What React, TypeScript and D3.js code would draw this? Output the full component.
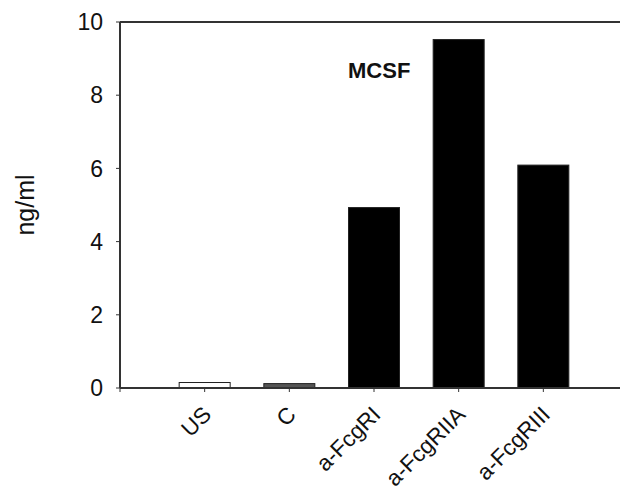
import * as d3 from 'd3';

const categories = ['US', 'C', 'a-FcgRI', 'a-FcgRIIA', 'a-FcgRIII'];
const values = [0.15, 0.12, 4.93, 9.52, 6.09];
const barFills = ['#ffffff', '#555555', '#000000', '#000000', '#000000'];
const yTicks = [0, 2, 4, 6, 8, 10];
const yLabel = 'ng/ml';
const panelTitle = 'MCSF';

const width = 620;
const height = 493;
const left = 120;
const top = 22;
const bottom = 388;
const font = 'Arial, "Liberation Sans", sans-serif';

export default function App() {
  // SigmaPlot-style numeric x axis: bars sit at 1..5 on a 0..6 axis
  const x = d3.scaleLinear([0, categories.length + 1], [left, 628]);
  const y = d3.scaleLinear([0, 10], [bottom, top]);
  const barWidth = 51;
  const axisColor = '#333';

  return (
    <svg
      width={width}
      height={height}
      style={{ position: 'absolute', left: 0, top: 0, background: '#fff' }}
      fontFamily={font}
    >
      {/* frame top */}
      <line x1={left} x2={width} y1={top} y2={top} stroke={axisColor} strokeWidth={2} />

      {/* bars */}
      {values.map((v, i) => (
        <rect
          key={categories[i]}
          x={x(i + 1) - barWidth / 2}
          y={y(v)}
          width={barWidth}
          height={y(0) - y(v)}
          fill={barFills[i]}
          stroke="#222"
          strokeWidth={1}
        />
      ))}

      {/* y axis */}
      <line x1={left} x2={left} y1={top} y2={bottom} stroke={axisColor} strokeWidth={2} />
      {yTicks.map((t) => (
        <g key={t} transform={`translate(0,${y(t)})`}>
          <line x1={left - 4} x2={left} stroke={axisColor} strokeWidth={1} />
          <text x={103} dy="0.36em" textAnchor="end" fontSize={23} fill="#111">
            {t}
          </text>
        </g>
      ))}
      <text
        transform={`translate(34,${(top + bottom) / 2}) rotate(-90)`}
        textAnchor="middle"
        fontSize={25}
        fill="#111"
      >
        {yLabel}
      </text>

      {/* x axis */}
      <line x1={left} x2={width} y1={bottom} y2={bottom} stroke={axisColor} strokeWidth={2} />
      {d3.range(0, categories.length + 1).map((i) => (
        <line key={i} x1={x(i)} x2={x(i)} y1={bottom} y2={bottom + 4} stroke={axisColor} strokeWidth={1} />
      ))}
      {categories.map((c, i) => (
        <text
          key={c}
          transform={`translate(${x(i + 1) + 8},${bottom + 28}) rotate(-45)`}
          textAnchor="end"
          fontSize={22.5}
          fill="#111"
        >
          {c}
        </text>
      ))}

      <text x={348} y={78} fontSize={22} fontWeight="bold" fill="#111">
        {panelTitle}
      </text>
    </svg>
  );
}
